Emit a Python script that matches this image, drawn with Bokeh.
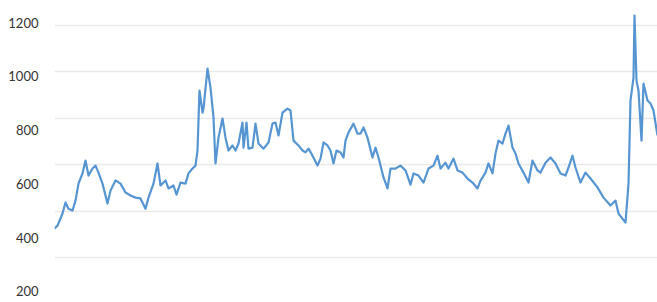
from bokeh.plotting import figure
from bokeh.models import Range1d, FixedTicker, Grid, ColumnDataSource
from bokeh.embed import file_html
from bokeh.resources import INLINE

# period index (time position) and observed values
t = [0, 3, 8, 11, 14, 18, 21, 24, 28, 31, 34, 38, 41, 44, 48, 53, 56, 61, 66, 71,
     76, 81, 86, 91, 94, 99, 103, 106, 111, 114, 119, 122, 126, 131, 134, 138, 141, 143, 145, 148,
     149, 153, 156, 159, 161, 164, 168, 171, 174, 178, 181, 184, 188, 189, 192, 194, 198, 201, 204, 209,
     214, 218, 221, 224, 228, 233, 236, 239, 244, 248, 251, 254, 258, 263, 266, 269, 273, 276, 279, 282,
     286, 289, 291, 294, 299, 303, 306, 309, 313, 318, 321, 324, 329, 333, 336, 341, 346, 351, 356, 359,
     364, 369, 374, 379, 383, 386, 391, 394, 399, 403, 408, 413, 418, 423, 426, 431, 434, 438, 441, 444,
     448, 451, 454, 458, 461, 464, 469, 474, 478, 483, 486, 491, 496, 501, 506, 511, 514, 518, 521, 526,
     531, 536, 543, 549, 556, 561, 564, 571, 574, 576, 579, 580, 582, 584, 587, 589, 593, 596, 599, 603]
price = [434, 445, 490, 531, 508, 501, 538, 601, 639, 687, 631, 657, 668, 642, 601, 527, 575, 613, 601, 568,
         557, 549, 546, 508, 549, 601, 676, 594, 613, 583, 594, 560, 605, 601, 639, 657, 668, 724, 947, 865,
         880, 1029, 958, 847, 676, 772, 843, 772, 724, 743, 724, 750, 828, 735, 828, 731, 735, 824, 750, 731,
         754, 824, 828, 780, 865, 880, 873, 761, 743, 724, 717, 731, 705, 668, 694, 754, 743, 724, 676, 724,
         717, 698, 761, 791, 824, 787, 787, 810, 772, 698, 735, 698, 624, 583, 657, 657, 668, 650, 597, 639,
         631, 605, 657, 668, 705, 657, 679, 657, 694, 650, 642, 620, 605, 583, 612, 642, 676, 639, 713, 761,
         750, 787, 817, 735, 713, 676, 642, 605, 687, 650, 642, 679, 698, 676, 639, 631, 661, 705, 661, 605,
         642, 620, 587, 549, 520, 538, 490, 456, 601, 910, 995, 1226, 984, 947, 761, 973, 910, 899, 873, 780]

label_ticks = [200, 400, 600, 800, 1000, 1200]
grid_ticks = [0, 200, 400, 600, 800, 1000, 1200]

p = figure(width=657, height=302, output_backend="svg", toolbar_location=None,
           x_range=Range1d(0, 603), y_range=Range1d(159.1, 1281.8))
p.min_border = 0
p.min_border_left = 54
p.outline_line_color = None
p.background_fill_color = "white"
p.border_fill_color = "white"

p.extra_y_ranges = {"grid": Range1d(6.0, 1307.8)}
p.xgrid.visible = False
p.ygrid.visible = False
g = Grid(dimension=1, ticker=FixedTicker(ticks=grid_ticks), y_range_name="grid",
         grid_line_color="#e9e9e9", grid_line_width=1.5)
p.add_layout(g, "center")

p.xaxis.visible = False
yax = p.yaxis[0]
yax.ticker = FixedTicker(ticks=label_ticks)
yax.axis_line_color = None
yax.major_tick_line_color = None
yax.minor_tick_line_color = None
yax.major_tick_out = 0
yax.major_tick_in = 0
yax.major_label_standoff = 16
yax.major_label_text_font = "Lato"
yax.major_label_text_font_size = "13px"
yax.major_label_text_color = "#333333"

src = ColumnDataSource(dict(t=t, price=price))
p.line("t", "price", source=src, line_color="#4d8fd0", line_width=2.2, line_alpha=0.95,
       line_join="round")

open("out.html", "w").write(file_html(p, INLINE))
